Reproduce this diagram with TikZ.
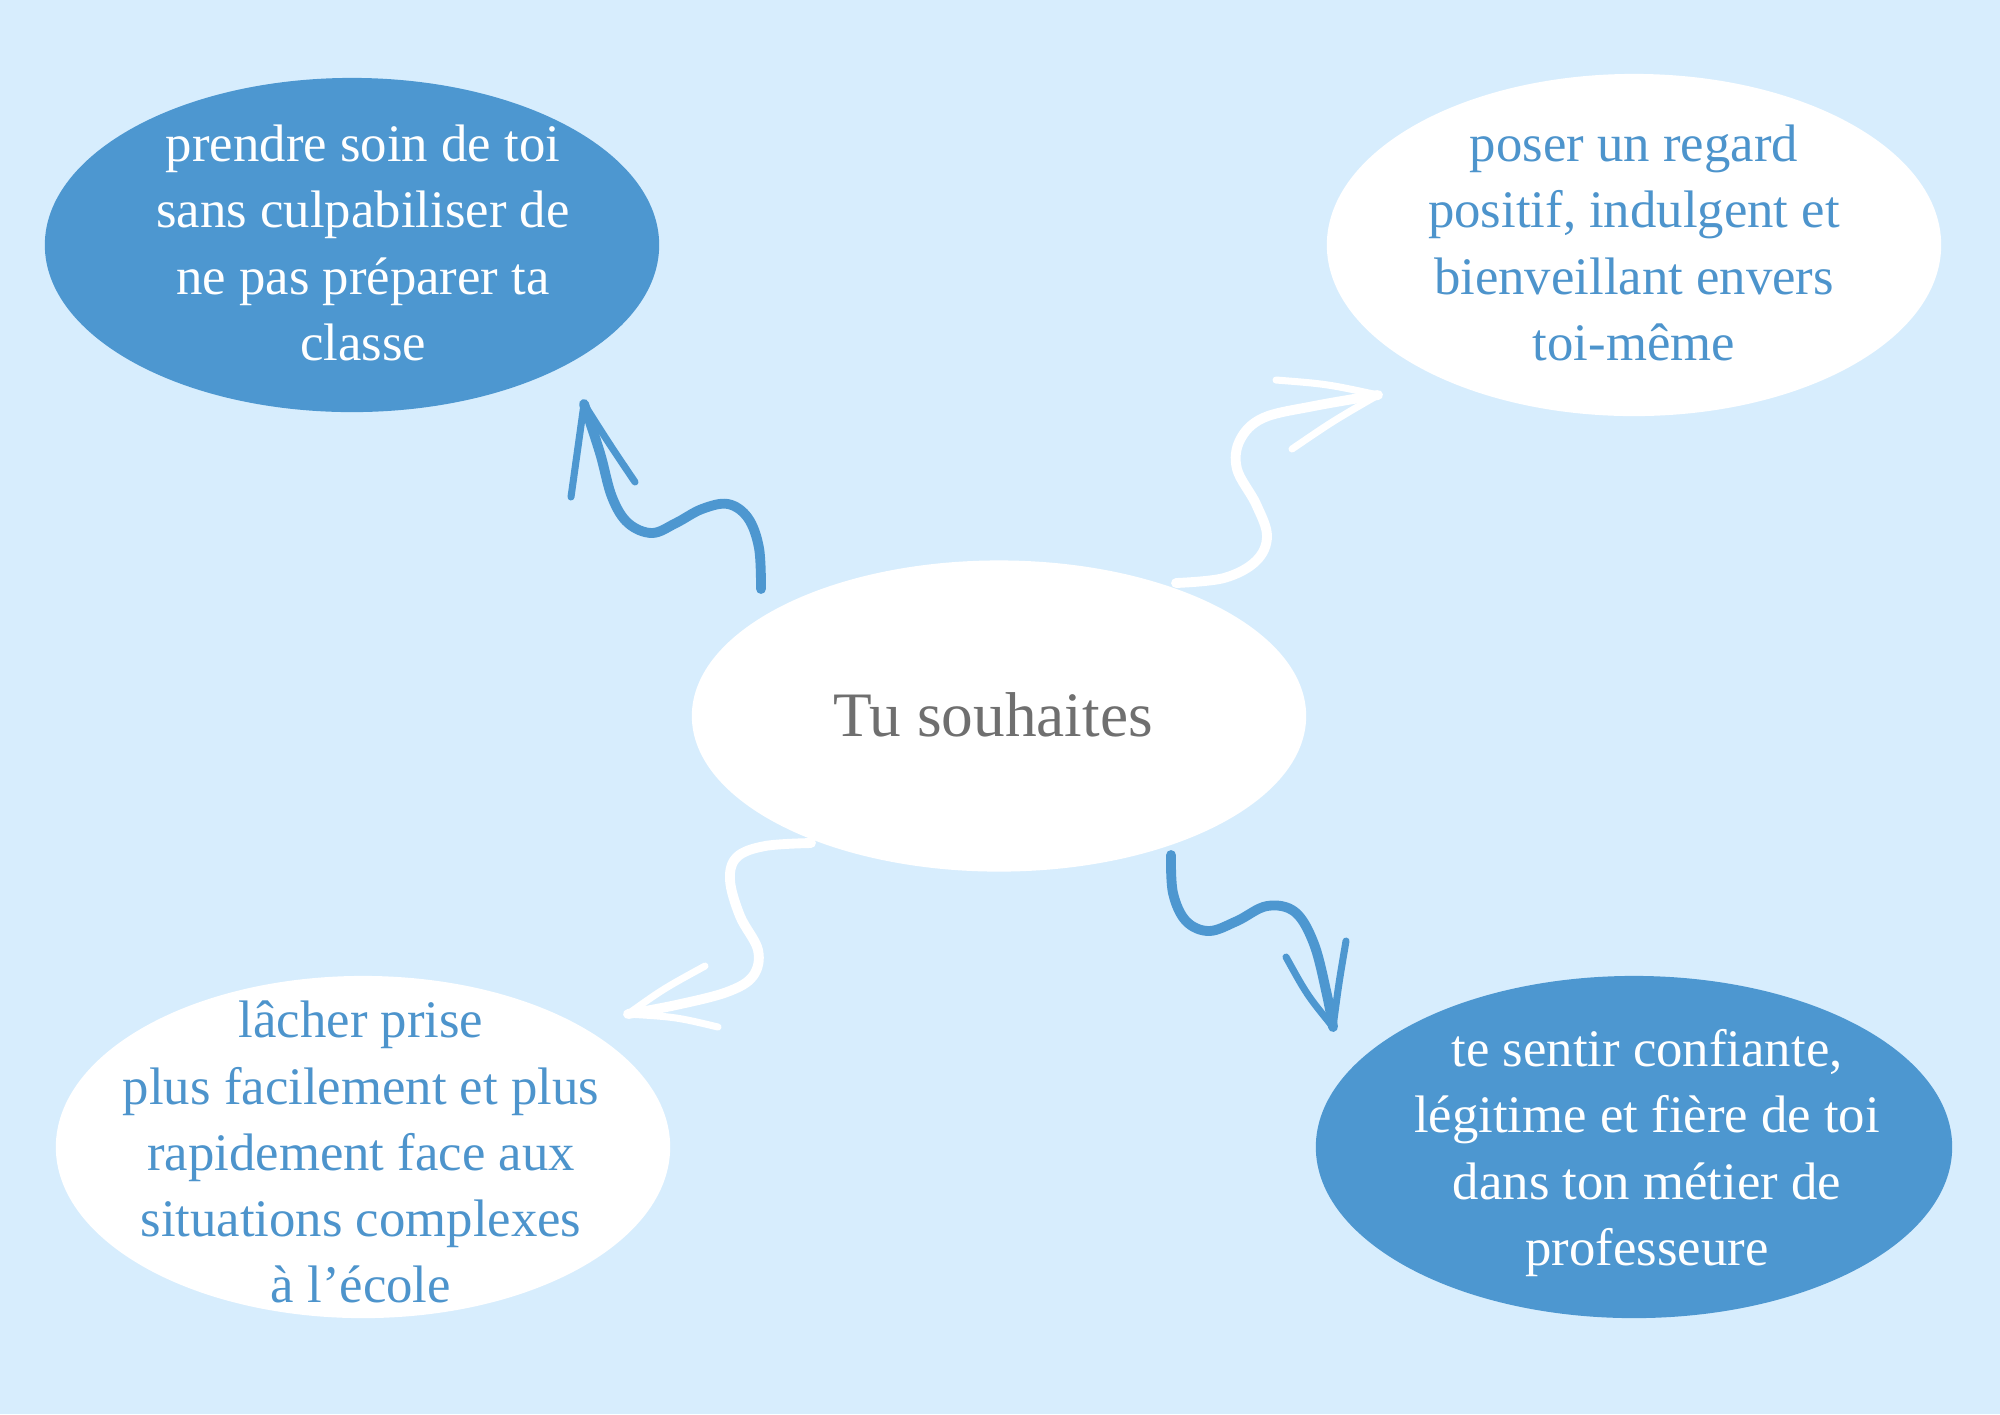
\documentclass[tikz,border=0pt]{standalone}
\usepackage{fontspec}
\setmainfont{Liberation Serif}
\usepackage{xcolor}
\usetikzlibrary{shapes.geometric}
\definecolor{sky}{HTML}{D7EDFD}
\definecolor{deepblue}{HTML}{4D97D0}
\definecolor{inkblue}{HTML}{4D94CC}
\definecolor{greytext}{HTML}{6F6F6F}
\tikzset{
  bubble/.style={ellipse,inner sep=0pt,minimum width=6.14cm,minimum height=3.42cm},
  wish/.style={align=center,inner sep=0pt,font=\fontsize{15}{18.8}\selectfont},
  wave/.style={line width=2.8pt,line cap=round,line join=round},
  barb/.style={line width=2pt,line cap=round,line join=round}
}
\begin{document}
\begin{tikzpicture}[x=0.01cm,y=-0.01cm]
    \useasboundingbox (0,0) rectangle (2000,1414);
    \fill[sky] (0,0) rectangle (2000,1414);
    % the five bubbles
    \node[bubble,fill=white,minimum height=3.11cm] (centre) at (999,716) {};
    \node[inner sep=0pt,font=\fontsize{18}{22}\selectfont,text=greytext] (centre-text) at (993,715) {Tu souhaites};
    \node[bubble,fill=deepblue,minimum height=3.34cm] (care) at (352,245) {};
    \node[wish,text=white] (care-text) at (363,243) {prendre soin de toi\\sans culpabiliser de\\ne pas préparer ta\\classe};
    \node[bubble,fill=white] (regard) at (1634,245) {};
    \node[wish,text=inkblue] (regard-text) at (1634,243) {poser un regard\\positif, indulgent et\\bienveillant envers\\toi-même};
    \node[bubble,fill=white] (prise) at (363,1147) {};
    \node[wish,text=inkblue] (prise-text) at (361,1152) {lâcher prise\\plus facilement et plus\\rapidement face aux\\situations complexes\\à l’école};
    \node[bubble,fill=deepblue,minimum width=6.36cm] (metier) at (1634,1147) {};
    \node[wish,text=white] (metier-text) at (1647,1153) {te sentir confiante,\\légitime et fière de toi\\dans ton métier de\\professeure};
    % wavy arrows
    \coordinate (care-from) at (761,589);
    \coordinate (care-tip) at (584,404);
    \draw[wave,deepblue] plot[smooth,tension=0.6] coordinates {(care-from) (759,548) (748,518) (728,504) (702,509) (676,523) (652,533) (628,523) (612,497) (600,453) (care-tip)};
    \draw[barb,deepblue] (571,497) .. controls (578,450) .. (care-tip) .. controls (610,445) .. (635,482);
    \coordinate (regard-from) at (1176,583);
    \coordinate (regard-tip) at (1378,395);
    \draw[wave,white] plot[smooth,tension=0.6] coordinates {(regard-from) (1224,578) (1256,561) (1267,536) (1256,504) (1237,469) (1240,440) (1263,418) (1314,406) (regard-tip)};
    \draw[barb,white] (1276,380) .. controls (1327,384) .. (regard-tip) .. controls (1333,421) .. (1292,449);
    \coordinate (prise-from) at (811,843);
    \coordinate (prise-tip) at (628,1014);
    \draw[wave,white] plot[smooth,tension=0.6] coordinates {(prise-from) (765,846) (737,857) (730,880) (740,916) (758,950) (753,976) (727,992) (676,1005) (prise-tip)};
    \draw[barb,white] (705,966) .. controls (663,989) .. (prise-tip) .. controls (676,1017) .. (718,1027);
    \coordinate (metier-from) at (1171,855);
    \coordinate (metier-tip) at (1333,1027);
    \draw[wave,deepblue] plot[smooth,tension=0.6] coordinates {(metier-from) (1173,893) (1186,921) (1209,931) (1237,921) (1267,906) (1295,912) (1314,944) (1327,995) (metier-tip)};
    \draw[barb,deepblue] (1286,957) .. controls (1307,995) .. (metier-tip) .. controls (1339,982) .. (1346,941);
\end{tikzpicture}
\end{document}
